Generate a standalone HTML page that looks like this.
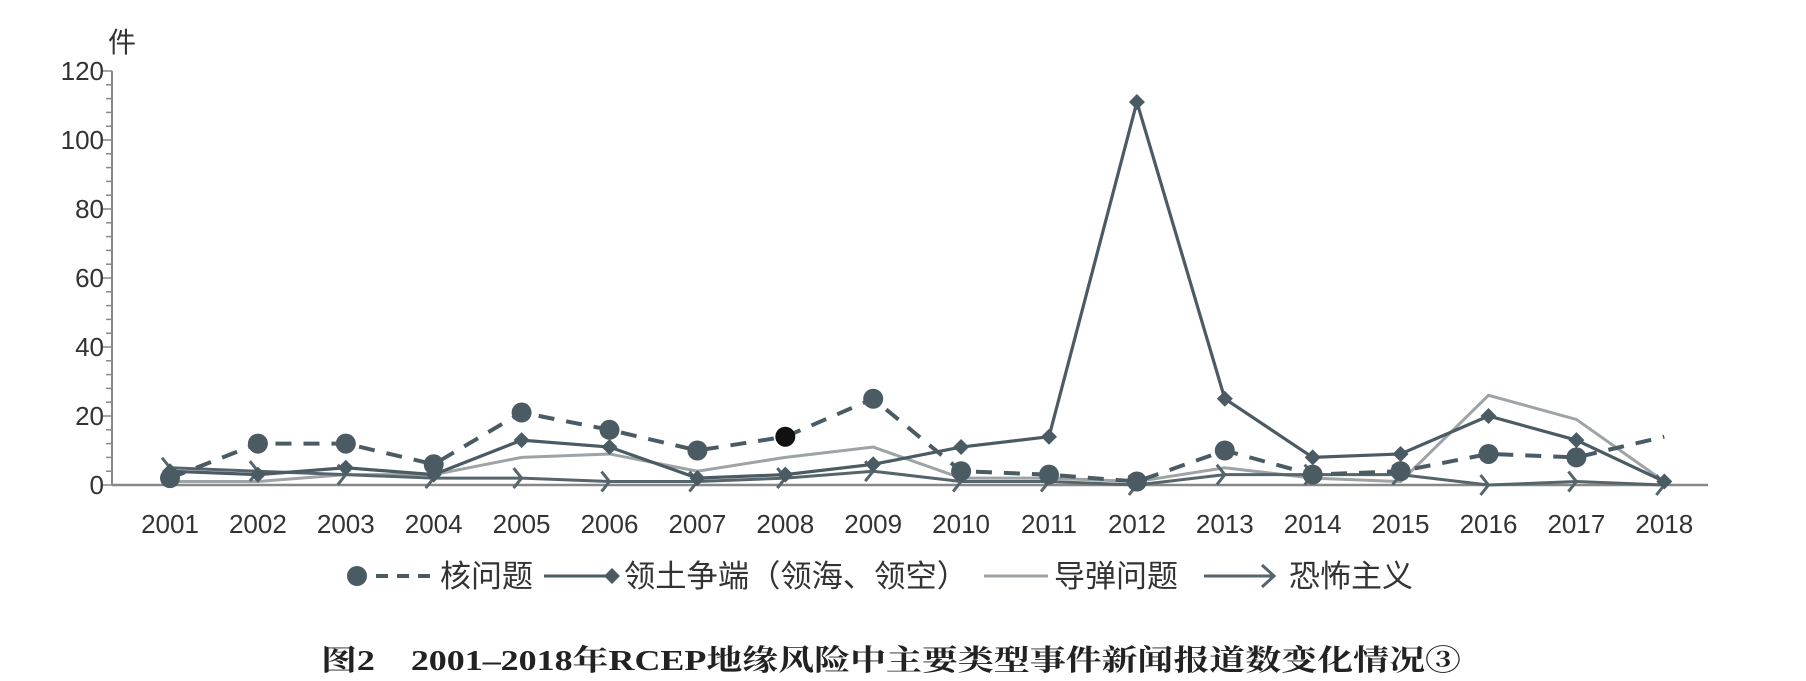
<!DOCTYPE html>
<html><head><meta charset="utf-8"><style>
html,body{margin:0;padding:0;background:#fff;}
svg{display:block;}
text{font-family:"Liberation Sans","Noto Sans CJK SC",sans-serif;fill:#333;}
</style></head><body>
<svg id="chart" width="1806" height="681" viewBox="0 0 1806 681" xmlns="http://www.w3.org/2000/svg">
<g id="axes"></g>
<g id="series"></g>
<g id="legend"></g>
<text x="108" y="52" font-size="28">件</text>
<text x="321" y="670" font-size="29" font-weight="bold" textLength="1140" lengthAdjust="spacingAndGlyphs" style="font-family:'Liberation Serif','Noto Serif CJK SC',serif;fill:#222">图2　2001–2018年RCEP地缘风险中主要类型事件新闻报道数变化情况③</text>
</svg>
<script>
const years = ['2001','2002','2003','2004','2005','2006','2007','2008','2009','2010','2011','2012','2013','2014','2015','2016','2017','2018'];
const nuclear = [2,12,12,6,21,16,10,14,25,4,3,1,10,3,4,9,8,14];
const territorial = [4,3,5,3,13,11,2,3,6,11,14,111,25,8,9,20,13,1];
const missile = [1,1,3,3,8,9,4,8,11,2,2,1,5,2,1,26,19,1];
const terror = [5,4,3,2,2,1,1,2,4,1,1,0,3,3,3,0,1,0];
const yTicks = [0,20,40,60,80,100,120];

const NS='http://www.w3.org/2000/svg';
const x0=170, step=87.9, yBase=485, yTop=71, yMax=120;
function X(i){return x0+i*step;}
function Y(v){return yBase-(v/yMax)*(yBase-yTop);}
function mk(tag,attrs,parent){const e=document.createElementNS(NS,tag);for(const k in attrs)e.setAttribute(k,attrs[k]);parent.appendChild(e);return e;}
const axes=document.getElementById('axes'), series=document.getElementById('series'), legend=document.getElementById('legend');

let e=mk('line',{x1:112,y1:yTop,x2:112,y2:yBase,stroke:'#888','stroke-width':2},axes);


e=mk('line',{x1:112,y1:yBase,x2:1708,y2:yBase,stroke:'#888','stroke-width':2.5},axes);


for(let v=0;v<=yMax;v+=4){
  const major=v%20===0;
  e=mk('line',{x1:major?102:106,y1:Y(v),x2:112,y2:Y(v),stroke:'#888','stroke-width':1.5},axes);
  
  
}
yTicks.forEach(v=>{
  const t=mk('text',{x:104,y:Y(v)+9,'font-size':26,'text-anchor':'end'},axes);
  t.textContent=v;
  
  
});
years.forEach((y,i)=>{
  const t=mk('text',{x:X(i),y:533,'font-size':26,'text-anchor':'middle'},axes);
  t.textContent=y;
  
  
});

function pts(arr){return arr.map((v,i)=>X(i)+','+Y(v)).join(' ');}
e=mk('polyline',{points:pts(missile),fill:'none',stroke:'#9da3a6','stroke-width':3},series);


e=mk('polyline',{points:pts(terror),fill:'none',stroke:'#56656c','stroke-width':3},series);


terror.forEach((v,i)=>{
  const cx=X(i),cy=Y(v);
  const m=mk('polyline',{points:`${cx-8},${cy-10} ${cx},${cy} ${cx-8},${cy+10}`,fill:'none',stroke:'#56656c','stroke-width':3},series);
  
  
});
e=mk('polyline',{points:pts(territorial),fill:'none',stroke:'#4b5b63','stroke-width':3.2},series);


territorial.forEach((v,i)=>{
  const cx=X(i),cy=Y(v);
  const m=mk('polygon',{points:`${cx},${cy-8} ${cx+8},${cy} ${cx},${cy+8} ${cx-8},${cy}`,fill:'#4b5b63'},series);
  
  
});
e=mk('polyline',{points:pts(nuclear),fill:'none',stroke:'#4b5b63','stroke-width':4,'stroke-dasharray':'16,12'},series);


nuclear.forEach((v,i)=>{
  if(i===nuclear.length-1) return;
  const m=mk('circle',{cx:X(i),cy:Y(v),r:10,fill:i===7?'#111':'#4b5b63'},series);
  
  
});

const ly=576;
e=mk('circle',{cx:357,cy:ly,r:10,fill:'#4b5b63'},legend);


e=mk('line',{x1:376,y1:ly,x2:430,y2:ly,stroke:'#4b5b63','stroke-width':4,'stroke-dasharray':'12,9'},legend);


e=mk('text',{x:440,y:ly+11,'font-size':31},legend);
e.textContent='核问题';


e=mk('line',{x1:544,y1:ly,x2:612,y2:ly,stroke:'#4b5b63','stroke-width':3},legend);


e=mk('polygon',{points:`612,${ly-8} 620,${ly} 612,${ly+8} 604,${ly}`,fill:'#4b5b63'},legend);


e=mk('text',{x:624,y:ly+11,'font-size':31,textLength:344,lengthAdjust:'spacingAndGlyphs'},legend);
e.textContent='领土争端（领海、领空）';


e=mk('line',{x1:984,y1:ly,x2:1048,y2:ly,stroke:'#9da3a6','stroke-width':3},legend);


e=mk('text',{x:1054,y:ly+11,'font-size':31},legend);
e.textContent='导弹问题';


e=mk('line',{x1:1204,y1:ly,x2:1274,y2:ly,stroke:'#56656c','stroke-width':3},legend);


e=mk('polyline',{points:`1262,${ly-11} 1274,${ly} 1262,${ly+11}`,fill:'none',stroke:'#56656c','stroke-width':3},legend);


e=mk('text',{x:1289,y:ly+11,'font-size':31},legend);
e.textContent='恐怖主义';


</script>
</body></html>
